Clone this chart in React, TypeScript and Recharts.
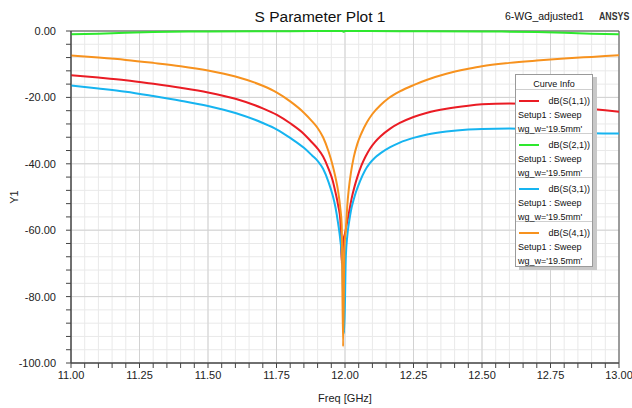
import React from "react";
import { LineChart, Line, XAxis, YAxis, CartesianGrid, ReferenceArea } from "recharts";

const FONT = "'Liberation Sans', Arial, sans-serif";

// Tick labels
const xMajorTicks = [11, 11.25, 11.5, 11.75, 12, 12.25, 12.5, 12.75, 13];
const yMajorTicks = [0, -20, -40, -60, -80, -100];
const xMinorTicks = Array.from({ length: 41 }, (_, i) => Math.round((11 + i * 0.05) * 100) / 100);
const yMinorTicks = Array.from({ length: 26 }, (_, i) => -4 * i);

// dB(S(1,1))
const freqS11 = [11.0, 11.1, 11.2, 11.3, 11.4, 11.5, 11.6, 11.7, 11.75, 11.8, 11.85, 11.88, 11.9, 11.92, 11.94, 11.955, 11.965, 11.975, 11.983, 11.988, 11.994, 12.0, 12.008, 12.015, 12.024, 12.035, 12.045, 12.06, 12.075, 12.09, 12.11, 12.13, 12.165, 12.2, 12.25, 12.3, 12.37, 12.45, 12.5, 12.6, 12.7, 12.8, 12.9, 13.0];
const dbS11 = [-13.3, -14.0, -14.8, -15.9, -17.1, -18.5, -20.4, -23.3, -25.2, -27.8, -31.0, -33.6, -35.4, -37.8, -41.5, -45.0, -48.5, -52.5, -57.0, -70.0, -63.0, -61.0, -57.5, -54.5, -50.5, -46.8, -44.0, -40.5, -37.8, -35.6, -33.4, -31.7, -29.4, -27.7, -25.9, -24.6, -23.4, -22.5, -22.1, -21.8, -22.0, -22.7, -23.5, -24.3];

// dB(S(2,1))
const freqS21 = [11.0, 11.1, 11.2, 11.3, 11.5, 11.8, 11.99, 11.995, 12.0, 12.2, 12.5, 12.7, 12.8, 12.9, 13.0];
const dbS21 = [-1.0, -0.8, -0.5, -0.3, -0.15, -0.05, 0, -0.2, 0, -0.05, -0.15, -0.3, -0.5, -0.8, -1.0];

// dB(S(3,1))
const freqS31 = [11.0, 11.1, 11.2, 11.3, 11.4, 11.5, 11.6, 11.7, 11.75, 11.8, 11.85, 11.88, 11.9, 11.92, 11.94, 11.955, 11.965, 11.975, 11.983, 11.99, 11.997, 12.003, 12.008, 12.015, 12.022, 12.031, 12.04, 12.055, 12.073, 12.09, 12.11, 12.13, 12.165, 12.2, 12.25, 12.3, 12.37, 12.45, 12.5, 12.6, 12.7, 12.8, 12.9, 13.0];
const dbS31 = [-16.4, -17.3, -18.3, -19.6, -21.0, -22.6, -24.7, -27.7, -29.6, -32.2, -35.2, -37.5, -39.1, -41.5, -45.5, -49.5, -53.0, -58.0, -63.0, -70.0, -91.0, -68.0, -62.0, -57.5, -54.0, -51.0, -48.5, -45.2, -42.0, -39.9, -38.1, -36.8, -35.0, -33.6, -32.2, -31.2, -30.3, -29.7, -29.5, -29.4, -29.8, -30.4, -30.8, -30.9];

// dB(S(4,1))
const freqS41 = [11.0, 11.1, 11.2, 11.3, 11.4, 11.5, 11.6, 11.7, 11.75, 11.8, 11.85, 11.88, 11.9, 11.92, 11.94, 11.955, 11.965, 11.975, 11.983, 11.988, 11.993, 11.998, 12.003, 12.008, 12.014, 12.022, 12.032, 12.045, 12.06, 12.08, 12.1, 12.13, 12.16, 12.2, 12.25, 12.3, 12.37, 12.45, 12.5, 12.6, 12.7, 12.8, 12.9, 13.0];
const dbS41 = [-7.4, -8.0, -8.7, -9.6, -10.6, -11.9, -13.7, -16.5, -18.5, -21.2, -24.6, -27.2, -29.2, -32.0, -36.3, -40.5, -44.0, -48.3, -53.5, -58.5, -95.0, -65.0, -60.0, -53.0, -47.5, -42.5, -38.0, -34.0, -30.8, -27.5, -25.0, -22.3, -20.2, -18.2, -16.3, -14.7, -12.9, -11.4, -10.6, -9.6, -8.9, -8.3, -7.8, -7.3];

const build = (fs: number[], vs: number[]) => fs.map((f, i) => ({ f, v: vs[i] }));

const series = [
  { name: "dB(S(1,1))", color: "#ea1c24", data: build(freqS11, dbS11) },
  { name: "dB(S(2,1))", color: "#2ee82e", data: build(freqS21, dbS21) },
  { name: "dB(S(3,1))", color: "#16b4f0", data: build(freqS31, dbS31) },
  { name: "dB(S(4,1))", color: "#f7921e", data: build(freqS41, dbS41) },
];
const legendLines = ["Setup1 : Sweep", "wg_w='19.5mm'"];

const isMajor = (v: number, majors: number[]) => majors.some((m) => Math.abs(m - v) < 1e-9);

export default function App() {
  return (
    <div style={{ position: "absolute", left: 0, top: 0, width: 632, height: 408, background: "#fff", fontFamily: FONT, overflow: "hidden" }}>
      <LineChart width={632} height={408} margin={{ top: 31, right: 13, bottom: 0, left: 11 }}>
        <CartesianGrid stroke="#e9e9e9" strokeWidth={1} />
        <CartesianGrid xAxisId="maj" yAxisId="maj" stroke="#d2d2d2" strokeWidth={1} />
        <XAxis
          type="number"
          dataKey="f"
          domain={[11, 13]}
          ticks={xMinorTicks}
          interval={0}
          height={45}
          tickSize={5}
          tickMargin={3}
          stroke="#444"
          tick={{ fill: "#222", fontSize: 11, fontFamily: FONT }}
          tickFormatter={(v: number) => (isMajor(v, xMajorTicks) ? v.toFixed(2) : "")}
          label={{ value: "Freq [GHz]", position: "insideBottom", offset: 6, fill: "#222", fontSize: 11, fontFamily: FONT }}
        />
        <XAxis xAxisId="maj" type="number" dataKey="f" domain={[11, 13]} ticks={xMajorTicks} hide allowDataOverflow />
        <YAxis
          type="number"
          domain={[-100, 0]}
          ticks={yMinorTicks}
          interval={0}
          width={60}
          tickSize={5}
          tickMargin={10}
          stroke="#444"
          tick={{ fill: "#222", fontSize: 11, fontFamily: FONT }}
          tickFormatter={(v: number) => (isMajor(v, yMajorTicks) ? v.toFixed(2) : "")}
        />
        <YAxis yAxisId="maj" type="number" domain={[-100, 0]} ticks={yMajorTicks} hide allowDataOverflow />
        <ReferenceArea x1={11} x2={13} y1={-100} y2={0} fill="none" stroke="#555" strokeWidth={1} />
        {series.map((s) => (
          <Line
            key={s.name}
            data={s.data}
            dataKey="v"
            name={s.name}
            type="monotone"
            stroke={s.color}
            strokeWidth={2}
            dot={false}
            activeDot={false}
            isAnimationActive={false}
          />
        ))}
      </LineChart>

      <div style={{ position: "absolute", left: 320, top: 8, transform: "translateX(-50%)", fontSize: 15.5, lineHeight: "18px", color: "#111", whiteSpace: "nowrap" }}>
        S Parameter Plot 1
      </div>
      <div style={{ position: "absolute", left: 505, top: 10, fontSize: 10.5, lineHeight: "13px", color: "#111", whiteSpace: "nowrap" }}>
        6-WG_adjusted1
      </div>
      <div style={{ position: "absolute", left: 599, top: 10, fontSize: 10, fontWeight: "bold", lineHeight: "13px", color: "#333", whiteSpace: "nowrap", transform: "scaleX(0.88)", transformOrigin: "left center" }}>
        ANSYS
      </div>
      <div style={{ position: "absolute", left: 14, top: 197, transform: "translate(-50%, -50%) rotate(-90deg)", fontSize: 11, color: "#222", whiteSpace: "nowrap" }}>
        Y1
      </div>

      <div
        style={{
          position: "absolute",
          left: 515,
          top: 74,
          width: 78,
          boxSizing: "border-box",
          border: "1px solid #9a9a9a",
          background: "#fff",
          boxShadow: "4px 3px 0 #c8c8c8",
          fontSize: 9,
          color: "#111",
        }}
      >
        <div style={{ height: 15, boxSizing: "border-box", paddingTop: 4, lineHeight: "11px", textAlign: "center", borderBottom: "1px solid #cfcfcf" }}>Curve Info</div>
        {series.map((s, i) => (
          <div
            key={s.name}
            style={{
              height: 44,
              boxSizing: "border-box",
              padding: "4px 2px 0 2px",
              borderBottom: i < series.length - 1 ? "1px solid #cfcfcf" : "none",
            }}
          >
            <div style={{ height: 14, lineHeight: "14px", display: "flex", alignItems: "center", justifyContent: "space-between" }}>
              <span style={{ display: "inline-block", width: 20, height: 2, background: s.color, marginLeft: 1 }} />
              <span>{s.name}</span>
            </div>
            {legendLines.map((t) => (
              <div key={t} style={{ height: 14, lineHeight: "14px", whiteSpace: "nowrap" }}>
                {t}
              </div>
            ))}
          </div>
        ))}
      </div>
    </div>
  );
}
